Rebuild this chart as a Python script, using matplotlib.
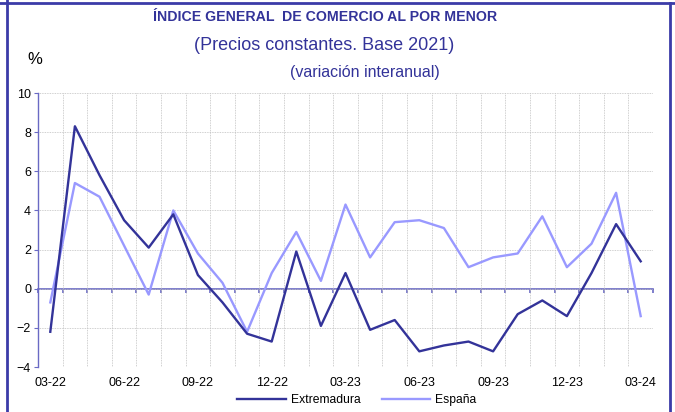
import matplotlib
matplotlib.use('Agg')
import matplotlib.pyplot as plt
from matplotlib.lines import Line2D
import numpy as np

# ── data ─────────────────────────────────────────────────────────────────────
months = ['03-22', '04-22', '05-22', '06-22', '07-22', '08-22', '09-22', '10-22',
          '11-22', '12-22', '01-23', '02-23', '03-23', '04-23', '05-23', '06-23',
          '07-23', '08-23', '09-23', '10-23', '11-23', '12-23', '01-24', '02-24',
          '03-24']
extremadura = [-2.2, 8.3, 5.8, 3.5, 2.1, 3.8, 0.7, -0.7, -2.3, -2.7, 1.9, -1.9,
               0.8, -2.1, -1.6, -3.2, -2.9, -2.7, -3.2, -1.3, -0.6, -1.4, 0.8,
               3.3, 1.4]
espana = [-0.7, 5.4, 4.7, 2.2, -0.3, 4.0, 1.8, 0.3, -2.2, 0.8, 2.9, 0.4,
          4.3, 1.6, 3.4, 3.5, 3.1, 1.1, 1.6, 1.8, 3.7, 1.1, 2.3, 4.9, -1.4]
label_every = 3

# ── style ────────────────────────────────────────────────────────────────────
plt.rcParams['font.family'] = ['Liberation Sans', 'DejaVu Sans']
dark = '#333399'
light = '#9999ff'
axis_blue = '#6a6ac4'
border = '#3b3ba8'
grid_col = '#c0c0c0'

fig = plt.figure(figsize=(6.75, 4.12), dpi=100)
ax = fig.add_axes([38 / 675, 1 - 367 / 412, 615 / 675, 274 / 412])

x = np.arange(len(months))
ax.plot(x, extremadura, color=dark, lw=1.7, label='Extremadura', zorder=4)
ax.plot(x, espana, color=light, lw=1.7, label='España', zorder=3)

ax.set_xlim(-0.5, len(months) - 0.5)
ax.set_ylim(-4, 10)

# grid: horizontal every 2, vertical on category boundaries
for yv in np.arange(-4, 11, 2):
    ax.axhline(yv, color=grid_col, lw=0.6, ls=(0, (1, 1)), zorder=1)
for xv in np.arange(-0.5, len(months), 1):
    ax.axvline(xv, color=grid_col, lw=0.6, ls=(0, (1, 1)), zorder=1)

for s in ['top', 'right', 'bottom']:
    ax.spines[s].set_visible(False)
ax.spines['left'].set_color(axis_blue)
ax.spines['left'].set_linewidth(1.0)

ax.set_yticks(np.arange(-4, 11, 2))
ax.tick_params(axis='y', direction='out', length=3, color=axis_blue,
               labelsize=9, pad=2)

ax.set_xticks(x[::label_every])
ax.set_xticklabels(months[::label_every])
ax.tick_params(axis='x', length=0, labelsize=9, pad=7)

# zero axis line with ticks on category boundaries
zero = ax.secondary_xaxis(4 / 14)
zero.spines['bottom'].set_color(axis_blue)
zero.spines['bottom'].set_linewidth(1.2)
zero.set_xticks(np.arange(-0.5, len(months), 1))
zero.tick_params(axis='x', direction='out', length=3, color=axis_blue,
                 width=1.2, labelbottom=False)

# ── text ─────────────────────────────────────────────────────────────────────
fig.text(325 / 675, 1 - 17 / 412, 'ÍNDICE GENERAL  DE COMERCIO AL POR MENOR',
         ha='center', va='center', fontsize=10.2, fontweight='bold', color=dark)
fig.text(324 / 675, 1 - 46 / 412, '(Precios constantes. Base 2021)',
         ha='center', va='center', fontsize=13, color=dark)
fig.text(365 / 675, 1 - 73 / 412, '(variación interanual)',
         ha='center', va='center', fontsize=11.5, color=dark)
fig.text(35 / 675, 1 - 60 / 412, '%', ha='center', va='center', fontsize=12,
         color='black')

fig.legend(loc='center', bbox_to_anchor=(357 / 675, 1 - 400 / 412), ncol=2,
           frameon=False, fontsize=8.7, handlelength=4.0, columnspacing=1.7,
           handletextpad=0.45)

# ── border lines of the panel ────────────────────────────────────────────────
fig.add_artist(Line2D([0, 1], [1 - 3 / 412, 1 - 3 / 412], color=border, lw=2,
                      transform=fig.transFigure))
fig.add_artist(Line2D([7 / 675, 7 / 675], [0, 1], color=border, lw=2,
                      transform=fig.transFigure))
fig.add_artist(Line2D([670 / 675, 670 / 675], [0, 1 - 3 / 412], color=border,
                      lw=2, transform=fig.transFigure))

fig.savefig('out.png', dpi=100)
